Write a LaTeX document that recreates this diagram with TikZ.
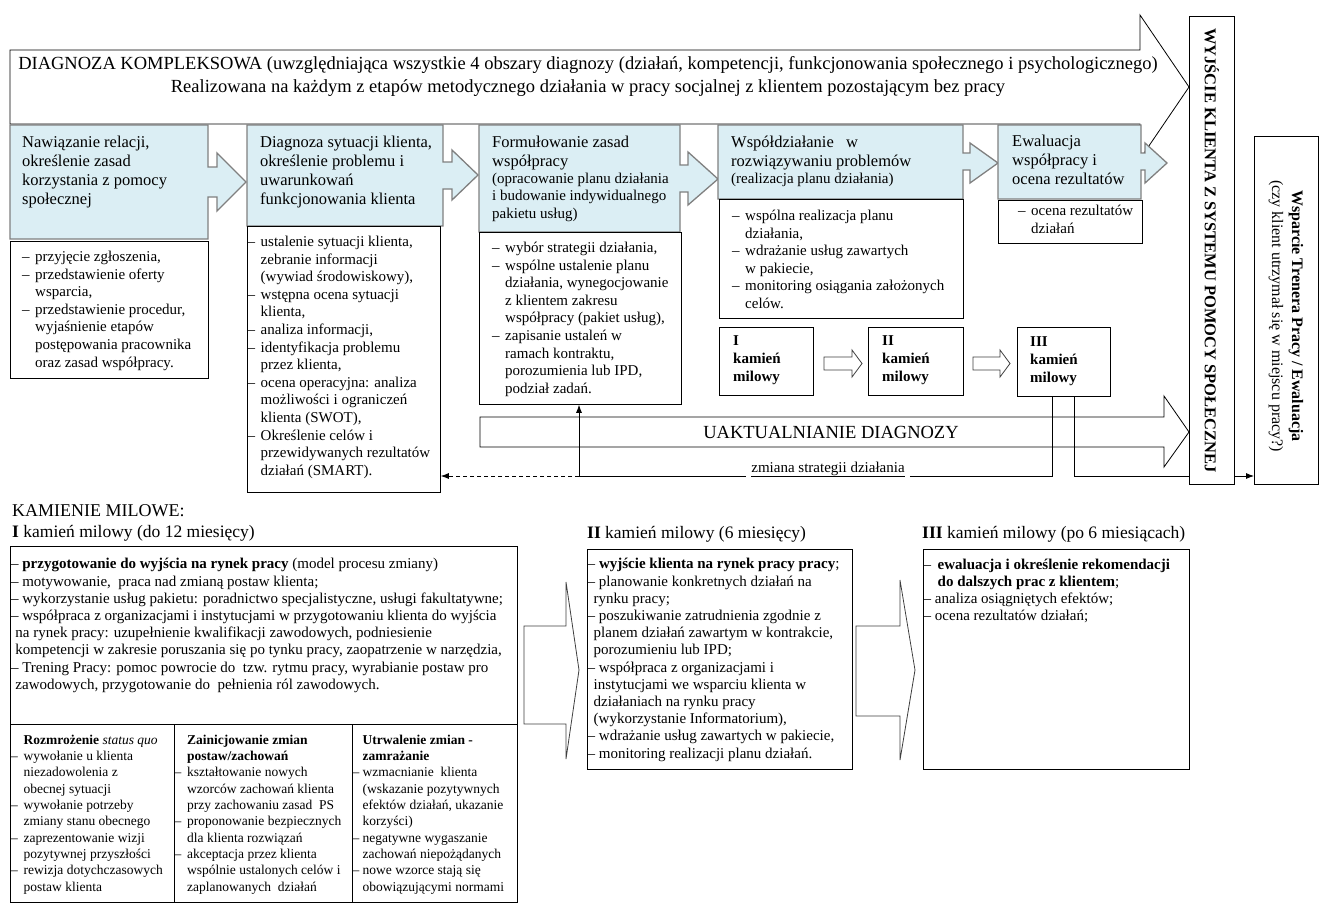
\documentclass[tikz,border=0pt]{standalone}
\usepackage{fontspec}
\setmainfont{Liberation Serif}
\usetikzlibrary{arrows.meta,calc}
\definecolor{boxblue}{RGB}{219,238,244}
\definecolor{boxgray}{RGB}{128,128,128}
\newlength\dlw
\newcommand\dsh{\makebox[\dlw][l]{–}}
\newcommand\hng{\hspace*{\dlw}}
\newcommand\fsz[2]{\fontsize{#1}{#2}\selectfont}
\begin{document}
\begin{tikzpicture}[x=1pt,y=-1pt,
  bluefill/.style={fill=boxblue,draw=boxgray,line width=1.3pt},
  outl/.style={draw=black,line width=0.8pt,fill=white},
  hollow/.style={draw=black!75,line width=0.8pt,fill=white},
  wbox/.style={draw=black,line width=0.8pt,fill=white,inner sep=0pt,anchor=north west},
  tx/.style={inner sep=0pt,anchor=north west,align=left},
  hdT/.style={font=\fsz{16.5}{19}},
  subT/.style={font=\fsz{15}{17.6}},
  bodyT/.style={font=\fsz{15}{17.6}\setlength\dlw{13pt}},
  msT/.style={font=\fsz{15}{18}\bfseries},
  colT/.style={font=\fsz{13.5}{16.3}\setlength\dlw{12.5pt}},
  ttl/.style={anchor=base west,inner sep=0pt,font=\fsz{17.5}{20}},
  conn/.style={line width=0.8pt},
  tip/.style={-{Latex[length=8pt,width=6pt]}}
]
\useasboundingbox (0,0) rectangle (1328,914);
\fill[white] (0,0) rectangle (1328,914);

% ---- top arrow
\draw[outl] (10,50) -- (1140,50) -- (1140,15) -- (1189,87) -- (1140,159) -- (1140,124) -- (10,124) -- cycle;
\node[font=\fsz{18.5}{23},align=center,inner sep=0pt] (diag) at (588,76)
 {DIAGNOZA KOMPLEKSOWA (uwzględniająca wszystkie 4 obszary diagnozy (działań, kompetencji, funkcjonowania społecznego i psychologicznego)\\
  Realizowana na każdym z etapów metodycznego działania w pracy socjalnej z klientem pozostającym bez pracy};

% ---- blue callouts
\draw[bluefill] (10,125) -- (208,125) -- (208,167) -- (217,167) -- (217,153) -- (246,182) -- (217,211) -- (217,197) -- (208,197) -- (208,239) -- (10,239) -- cycle;
\draw[bluefill] (247,125) -- (443,125) -- (443,162) -- (452,162) -- (452,150) -- (478,175) -- (452,200) -- (452,189) -- (443,189) -- (443,226) -- (247,226) -- cycle;
\draw[bluefill] (479,125) -- (680,125) -- (680,165) -- (688,165) -- (688,152) -- (718,179) -- (688,205) -- (688,192) -- (680,192) -- (680,232) -- (479,232) -- cycle;
\draw[bluefill] (718,125) -- (963,125) -- (963,153) -- (970,153) -- (970,143) -- (998,163) -- (970,183) -- (970,170) -- (963,170) -- (963,199) -- (718,199) -- cycle;
\draw[bluefill] (998,125) -- (1141,125) -- (1141,153) -- (1145,153) -- (1145,143) -- (1167,163) -- (1145,183) -- (1145,170) -- (1141,170) -- (1141,199) -- (998,199) -- cycle;

\node[tx,hdT] (b1t) at (22,133.5) {\strut Nawiązanie relacji,\\ określenie zasad\\ korzystania z pomocy\\ społecznej};
\node[tx,hdT] (b2t) at (260,133.5) {\strut Diagnoza sytuacji klienta,\\ określenie problemu i\\ uwarunkowań\\ funkcjonowania klienta};
\node[tx,hdT] (b3t) at (492,133.5) {\strut Formułowanie zasad\\ współpracy};
\node[tx,subT] (b3s) at (492,170.5) {\strut (opracowanie planu działania\\ i budowanie indywidualnego\\ pakietu usług)};
\node[tx,hdT] (b4t) at (731,133.5) {\strut Współdziałanie \ \ w\\ rozwiązywaniu problemów};
\node[tx,subT] (b4s) at (731,170.5) {\strut (realizacja planu działania)};
\node[tx,hdT] (b5t) at (1012,133) {\strut Ewaluacja\\ współpracy i\\ ocena rezultatów};

% ---- white boxes
\node[wbox,minimum width=198pt,minimum height=137pt] (w1) at (10,241) {};
\node[wbox,minimum width=193pt,minimum height=266pt] (w2) at (247,226) {};
\node[wbox,minimum width=202pt,minimum height=172pt] (w3) at (479,232) {};
\node[wbox,minimum width=244pt,minimum height=119pt] (w4) at (719,199) {};
\node[wbox,minimum width=144pt,minimum height=43pt] (w5) at (998,200) {};

\node[tx,bodyT] (w1t) at (22,249) {\strut\dsh przyjęcie zgłoszenia,\\ \dsh przedstawienie oferty\\ \hng wsparcia,\\ \dsh przedstawienie procedur,\\ \hng wyjaśnienie etapów\\ \hng postępowania pracownika\\ \hng oraz zasad współpracy.};
\node[tx,bodyT] (w2t) at (247.5,234) {\strut\dsh ustalenie sytuacji klienta,\\ \hng zebranie informacji\\ \hng (wywiad środowiskowy),\\ \dsh wstępna ocena sytuacji\\ \hng klienta,\\ \dsh analiza informacji,\\ \dsh identyfikacja problemu\\ \hng przez klienta,\\ \dsh ocena operacyjna: analiza\\ \hng możliwości i ograniczeń\\ \hng klienta (SWOT),\\ \dsh Określenie celów i\\ \hng przewidywanych rezultatów\\ \hng działań (SMART).};
\node[tx,bodyT] (w3t) at (492,240) {\strut\dsh wybór strategii działania,\\ \dsh wspólne ustalenie planu\\ \hng działania, wynegocjowanie\\ \hng z klientem zakresu\\ \hng współpracy (pakiet usług),\\ \dsh zapisanie ustaleń w\\ \hng ramach kontraktu,\\ \hng porozumienia lub IPD,\\ \hng podział zadań.};
\node[tx,bodyT] (w4t) at (732,208) {\strut\dsh wspólna realizacja planu\\ \hng działania,\\ \dsh wdrażanie usług zawartych\\ \hng w pakiecie,\\ \dsh monitoring osiągania założonych\\ \hng celów.};
\node[tx,bodyT] (w5t) at (1018,203) {\strut\dsh ocena rezultatów\\ \hng działań};

% ---- milestones (top)
\node[wbox,minimum width=94pt,minimum height=68pt] (m1) at (719,327) {};
\node[wbox,minimum width=95pt,minimum height=68pt] (m2) at (868,327) {};
\node[wbox,minimum width=93pt,minimum height=69pt] (m3) at (1017,327) {};
\node[tx,msT] (m1t) at (733,333) {\strut I\\ kamień\\ milowy};
\node[tx,msT] (m2t) at (882,333) {\strut II\\ kamień\\ milowy};
\node[tx,msT] (m3t) at (1030,334) {\strut III\\ kamień\\ milowy};
\draw[hollow] (824,357) -- (852,357) -- (852,350) -- (862,363.5) -- (852,377) -- (852,370) -- (824,370) -- cycle;
\draw[hollow] (973,357) -- (1000,357) -- (1000,350) -- (1010,363.5) -- (1000,377) -- (1000,370) -- (973,370) -- cycle;

% ---- UAKTUALNIANIE arrow
\draw[outl] (480,417) -- (1164,417) -- (1164,396) -- (1189,432) -- (1164,467) -- (1164,447) -- (480,447) -- cycle;
\node[font=\fsz{18.5}{22},inner sep=0pt] (uakt) at (831,432) {UAKTUALNIANIE DIAGNOZY};

% ---- vertical boxes
\node[wbox,minimum width=45pt,minimum height=468pt] (v1) at (1189,16) {};
\node[rotate=-90,font=\fsz{16.5}{19}\bfseries,inner sep=0pt] (v1t) at (v1.center) {WYJŚCIE KLIENTA Z SYSTEMU POMOCY SPOŁECZNEJ};
\node[wbox,minimum width=64pt,minimum height=348pt] (v2) at (1254,136) {};
\node[rotate=-90,font=\fsz{16}{20},align=center,inner sep=0pt] (v2t) at (1286,316) {\textbf{Wsparcie Trenera Pracy / Ewaluacja}\\ (czy klient utrzymał się w miejscu pracy?)};

% ---- connectors
\node[font=\fsz{15}{17},anchor=base,inner sep=0pt] (zm) at (828,472) {zmiana strategii działania};
\coordinate (j) at (579,476);
\coordinate (k1) at (1052,476);
\coordinate (k2) at (1074,476);
\draw[conn,tip] (j) -- (j |- w3.south);
\draw[conn,tip,dash pattern=on 4pt off 3pt] (j) -- (j -| w2.east);
\draw[conn] (j) -- ($(j -| zm.west)+(-5,0)$);
\draw[conn] (j -| zm.west) -- (j -| zm.east);
\draw[conn] ($(j -| zm.east)+(5,0)$) -- (k1) -- (k1 |- m3.south);
\draw[conn] (k2 |- m3.south) -- (k2) -- (k2 -| v1.west);
\draw[conn,tip] (v1.east |- k2) -- (v2.west |- k2);

% ---- bottom part
\node[anchor=base west,inner sep=0pt,font=\fsz{18}{20}] (kam) at (12,516) {KAMIENIE MILOWE:};
\node[ttl] (t1) at (12,537) {\textbf{I} kamień milowy (do 12 miesięcy)};
\node[ttl] (t2) at (587,538) {\textbf{II} kamień milowy (6 miesięcy)};
\node[ttl] (t3) at (922,538) {\textbf{III} kamień milowy (po 6 miesiącach)};

\node[wbox,minimum width=507pt,minimum height=178pt] (bI) at (10,546) {};
\node[wbox,minimum width=507pt,minimum height=178pt] (cols) at (10,724) {};
\draw[conn] (174,724) -- (174,902);
\draw[conn] (352,724) -- (352,902);
\node[wbox,minimum width=265pt,minimum height=220pt] (bII) at (587,549) {};
\node[wbox,minimum width=266pt,minimum height=220pt] (bIII) at (923,549) {};

\draw[hollow] (524,626) -- (566,626) -- (566,582) -- (579,670) -- (566,759) -- (566,724) -- (524,724) -- cycle;
\draw[hollow] (856,626) -- (900,626) -- (900,580) -- (915,670) -- (900,760) -- (900,716) -- (856,716) -- cycle;

\node[tx,font=\fsz{15}{17.2}\setlength\dlw{4.5pt}] (bIt) at (10.8,556.6) {\strut – \textbf{przygotowanie do wyjścia na rynek pracy} (model procesu zmiany)\\
 – motywowanie, \ praca nad zmianą postaw klienta;\\
 – wykorzystanie usług pakietu: poradnictwo specjalistyczne, usługi fakultatywne;\\
 – współpraca z organizacjami i instytucjami w przygotowaniu klienta do wyjścia\\
 \hng na rynek pracy: uzupełnienie kwalifikacji zawodowych, podniesienie\\
 \hng kompetencji w zakresie poruszania się po tynku pracy, zaopatrzenie w narzędzia,\\
 – Trening Pracy: pomoc powrocie do \ tzw. rytmu pracy, wyrabianie postaw pro\\
 \hng zawodowych, przygotowanie do \ pełnienia ról zawodowych.};

\node[tx,colT] (c1t) at (11,732.7) {\strut\hng\textbf{Rozmrożenie} \textit{status quo}\\ \dsh wywołanie u klienta\\ \hng niezadowolenia z\\ \hng obecnej sytuacji\\ \dsh wywołanie potrzeby\\ \hng zmiany stanu obecnego\\ \dsh zaprezentowanie wizji\\ \hng pozytywnej przyszłości\\ \dsh rewizja dotychczasowych\\ \hng postaw klienta};
\node[tx,colT] (c2t) at (174.5,732.7) {\strut\hng\textbf{Zainicjowanie zmian}\\ \hng\textbf{postaw/zachowań}\\ \dsh kształtowanie nowych\\ \hng wzorców zachowań klienta\\ \hng przy zachowaniu zasad \ PS\\ \dsh proponowanie bezpiecznych\\ \hng dla klienta rozwiązań\\ \dsh akceptacja przez klienta\\ \hng wspólnie ustalonych celów i\\ \hng zaplanowanych \ działań};
\node[tx,font=\fsz{13.5}{16.3}\setlength\dlw{10pt}] (c3t) at (352.5,732.7) {\strut\hng\textbf{Utrwalenie zmian -}\\ \hng\textbf{zamrażanie}\\ \dsh wzmacnianie \ klienta\\ \hng (wskazanie pozytywnych\\ \hng efektów działań, ukazanie\\ \hng korzyści)\\ \dsh negatywne wygaszanie\\ \hng zachowań niepożądanych\\ \dsh nowe wzorce stają się\\ \hng obowiązującymi normami};

\node[tx,font=\fsz{15}{17.2}\setlength\dlw{6pt}] (bIIt) at (587.5,556.6) {\strut – \textbf{wyjście klienta na rynek pracy pracy};\\
 – planowanie konkretnych działań na\\ \hng rynku pracy;\\
 – poszukiwanie zatrudnienia zgodnie z\\ \hng planem działań zawartym w kontrakcie,\\ \hng porozumieniu lub IPD;\\
 – współpraca z organizacjami i\\ \hng instytucjami we wsparciu klienta w\\ \hng działaniach na rynku pracy\\ \hng (wykorzystanie Informatorium),\\
 – wdrażanie usług zawartych w pakiecie,\\
 – monitoring realizacji planu działań.};
\node[tx,font=\fsz{15}{17.2}\setlength\dlw{14pt}] (bIIIt) at (923.5,557) {\strut\dsh\textbf{ewaluacja i określenie rekomendacji}\\ \hng\textbf{do dalszych prac z klientem};\\ – analiza osiągniętych efektów;\\ – ocena rezultatów działań;};
\end{tikzpicture}
\end{document}
